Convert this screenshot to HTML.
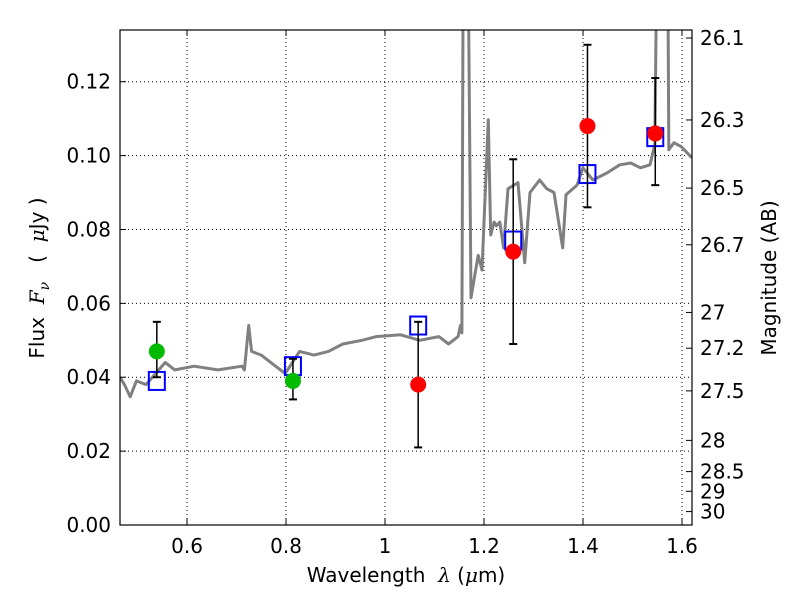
<!DOCTYPE html>
<html><head><meta charset="utf-8"><style>
body{margin:0;background:#fff;}
svg{font-family:"DejaVu Sans","Liberation Sans",sans-serif;}
</style></head><body>
<svg id="chart" width="800" height="600" xmlns="http://www.w3.org/2000/svg">
<rect width="800" height="600" fill="#fff"/>
<defs><clipPath id="clip"><rect x="120" y="30" width="572" height="495"/></clipPath></defs>
<g id="grid"></g>
<g id="spec" clip-path="url(#clip)"></g>
<g id="marks"></g>
<rect x="120" y="30" width="572" height="495" fill="none" stroke="#000" stroke-width="1.2"/>
<g id="axes" font-size="20" fill="#000"></g>
<text x="406" y="582" font-size="20" text-anchor="middle" xml:space="preserve">Wavelength  <tspan font-style="italic" font-family="DejaVu Serif,serif">λ</tspan> (<tspan font-style="italic" font-family="DejaVu Serif,serif">μ</tspan>m)</text>
<text transform="translate(44,278) rotate(-90)" font-size="20" text-anchor="middle" xml:space="preserve">Flux  <tspan font-style="italic" font-family="DejaVu Serif,serif">F</tspan><tspan font-style="italic" font-family="DejaVu Serif,serif" font-size="14" dy="5">ν</tspan><tspan dy="-5">   (  </tspan><tspan font-style="italic" font-family="DejaVu Serif,serif">μ</tspan>Jy )</text>
<text transform="translate(776,278) rotate(-90)" font-size="20" text-anchor="middle">Magnitude (AB)</text>
</svg>
<script>
const xTicks=[0.6,0.8,1.0,1.2,1.4,1.6];
const xTickLabels=["0.6","0.8","1","1.2","1.4","1.6"];
const yTicks=[0,0.02,0.04,0.06,0.08,0.10,0.12];
const yTickLabels=["0.00","0.02","0.04","0.06","0.08","0.10","0.12"];
const magTicks=[26.1,26.3,26.5,26.7,27,27.2,27.5,28,28.5,29,30];
const magLabels=["26.1","26.3","26.5","26.7","27","27.2","27.5","28","28.5","29","30"];
const specWave=[0.4646,0.4735,0.4852,0.4978,0.5172,0.5559,0.5753,0.6141,0.6626,0.7111,0.7159,0.7247,0.7305,0.7499,0.7790,0.7984,0.8275,0.8566,0.8857,0.9148,0.9536,0.9827,1.0312,1.0700,1.1088,1.1282,1.1476,1.1524,1.1553,1.1592,1.1650,1.1737,1.1883,1.1960,1.2086,1.2135,1.2203,1.2251,1.2319,1.2396,1.2484,1.2687,1.2823,1.2930,1.3124,1.3269,1.3415,1.3589,1.3657,1.3880,1.3997,1.4200,1.4482,1.4743,1.4966,1.5160,1.5354,1.5451,1.5529,1.5558,1.5694,1.5733,1.5839,1.5985,1.62];
const specFlux=[0.040,0.038,0.0347,0.039,0.038,0.044,0.042,0.043,0.042,0.043,0.042,0.054,0.047,0.046,0.043,0.041,0.047,0.046,0.047,0.049,0.050,0.051,0.0515,0.050,0.051,0.049,0.051,0.054,0.052,0.20,0.20,0.0615,0.073,0.069,0.1097,0.0785,0.082,0.081,0.082,0.075,0.091,0.0927,0.071,0.090,0.0934,0.091,0.090,0.075,0.0894,0.092,0.0967,0.0934,0.0953,0.0975,0.098,0.0967,0.0975,0.103,0.20,0.20,0.20,0.1016,0.1035,0.1024,0.0994];
const redWave=[1.067,1.259,1.409,1.546];
const redFlux=[0.038,0.074,0.108,0.106];
const redLo=[0.021,0.049,0.086,0.092];
const redHi=[0.055,0.099,0.130,0.121];
const greenWave=[0.539,0.814];
const greenFlux=[0.047,0.039];
const greenLo=[0.040,0.034];
const greenHi=[0.055,0.045];
const modelWave=[0.539,0.814,1.067,1.259,1.409,1.546];
const modelFlux=[0.039,0.043,0.054,0.077,0.095,0.105];

const X0=120,X1=692,Y0=525,Y1=30,XMIN=0.4646,XMAX=1.6202,YMIN=0,YMAX=0.134;
const sx=w=>X0+(w-XMIN)/(XMAX-XMIN)*(X1-X0);
const sy=f=>Y0-(f-YMIN)/(YMAX-YMIN)*(Y0-Y1);
const NS="http://www.w3.org/2000/svg";
function mk(tag,parent,attrs){const e=document.createElementNS(NS,tag);for(const k in attrs)e.setAttribute(k,attrs[k]);parent.appendChild(e);return e;}
const grid=document.getElementById('grid'),axes=document.getElementById('axes'),spec=document.getElementById('spec'),marks=document.getElementById('marks');
xTicks.forEach((t,i)=>{const x=sx(t);
 const g=mk('line',grid,{x1:x,x2:x,y1:Y1,y2:Y0,stroke:'#000','stroke-dasharray':'1,3','stroke-width':1});
 
 mk('line',axes,{x1:x,x2:x,y1:Y0,y2:Y0-6,stroke:'#000'});mk('line',axes,{x1:x,x2:x,y1:Y1,y2:Y1+6,stroke:'#000'});
 const tx=mk('text',axes,{x:x,y:553,'text-anchor':'middle'});tx.textContent=xTickLabels[i];
 });
yTicks.forEach((t,i)=>{const y=sy(t);
 if(i>0){const g=mk('line',grid,{x1:X0,x2:X1,y1:y,y2:y,stroke:'#000','stroke-dasharray':'1,3','stroke-width':1});
 }
 mk('line',axes,{x1:X0,x2:X0+6,y1:y,y2:y,stroke:'#000'});
 const tx=mk('text',axes,{x:111,y:y+7,'text-anchor':'end'});tx.textContent=yTickLabels[i];
 });
magTicks.forEach((m,i)=>{const f=Math.pow(10,(23.9-m)/2.5);const y=sy(f);
 mk('line',axes,{x1:X1,x2:X1-6,y1:y,y2:y,stroke:'#000'});
 const tx=mk('text',axes,{x:700,y:y+7,'text-anchor':'start'});tx.textContent=magLabels[i];
 });
const pts=specWave.map((w,i)=>sx(w).toFixed(1)+','+sy(specFlux[i]).toFixed(1)).join(' ');
const pl=mk('polyline',spec,{points:pts,fill:'none',stroke:'#808080','stroke-width':3,'stroke-linejoin':'round'});

function errbar(w,lo,hi){const x=sx(w);
 const l=mk('line',marks,{x1:x,x2:x,y1:sy(lo),y2:sy(hi),stroke:'#000','stroke-width':1.5});
 
 mk('line',marks,{x1:x-4,x2:x+4,y1:sy(lo),y2:sy(lo),stroke:'#000','stroke-width':2});
 mk('line',marks,{x1:x-4,x2:x+4,y1:sy(hi),y2:sy(hi),stroke:'#000','stroke-width':2});}
modelWave.forEach((w,i)=>{const r=mk('rect',marks,{x:sx(w)-8,y:sy(modelFlux[i])-9,width:16,height:18,fill:'none',stroke:'#0000ff','stroke-width':2});
 });
greenWave.forEach((w,i)=>{errbar(w,greenLo[i],greenHi[i]);
 const c=mk('circle',marks,{cx:sx(w),cy:sy(greenFlux[i]),r:8,fill:'#00bb00'});
 });
redWave.forEach((w,i)=>{errbar(w,redLo[i],redHi[i]);
 const c=mk('circle',marks,{cx:sx(w),cy:sy(redFlux[i]),r:8,fill:'#ff0000'});
 });
</script>
</body></html>
